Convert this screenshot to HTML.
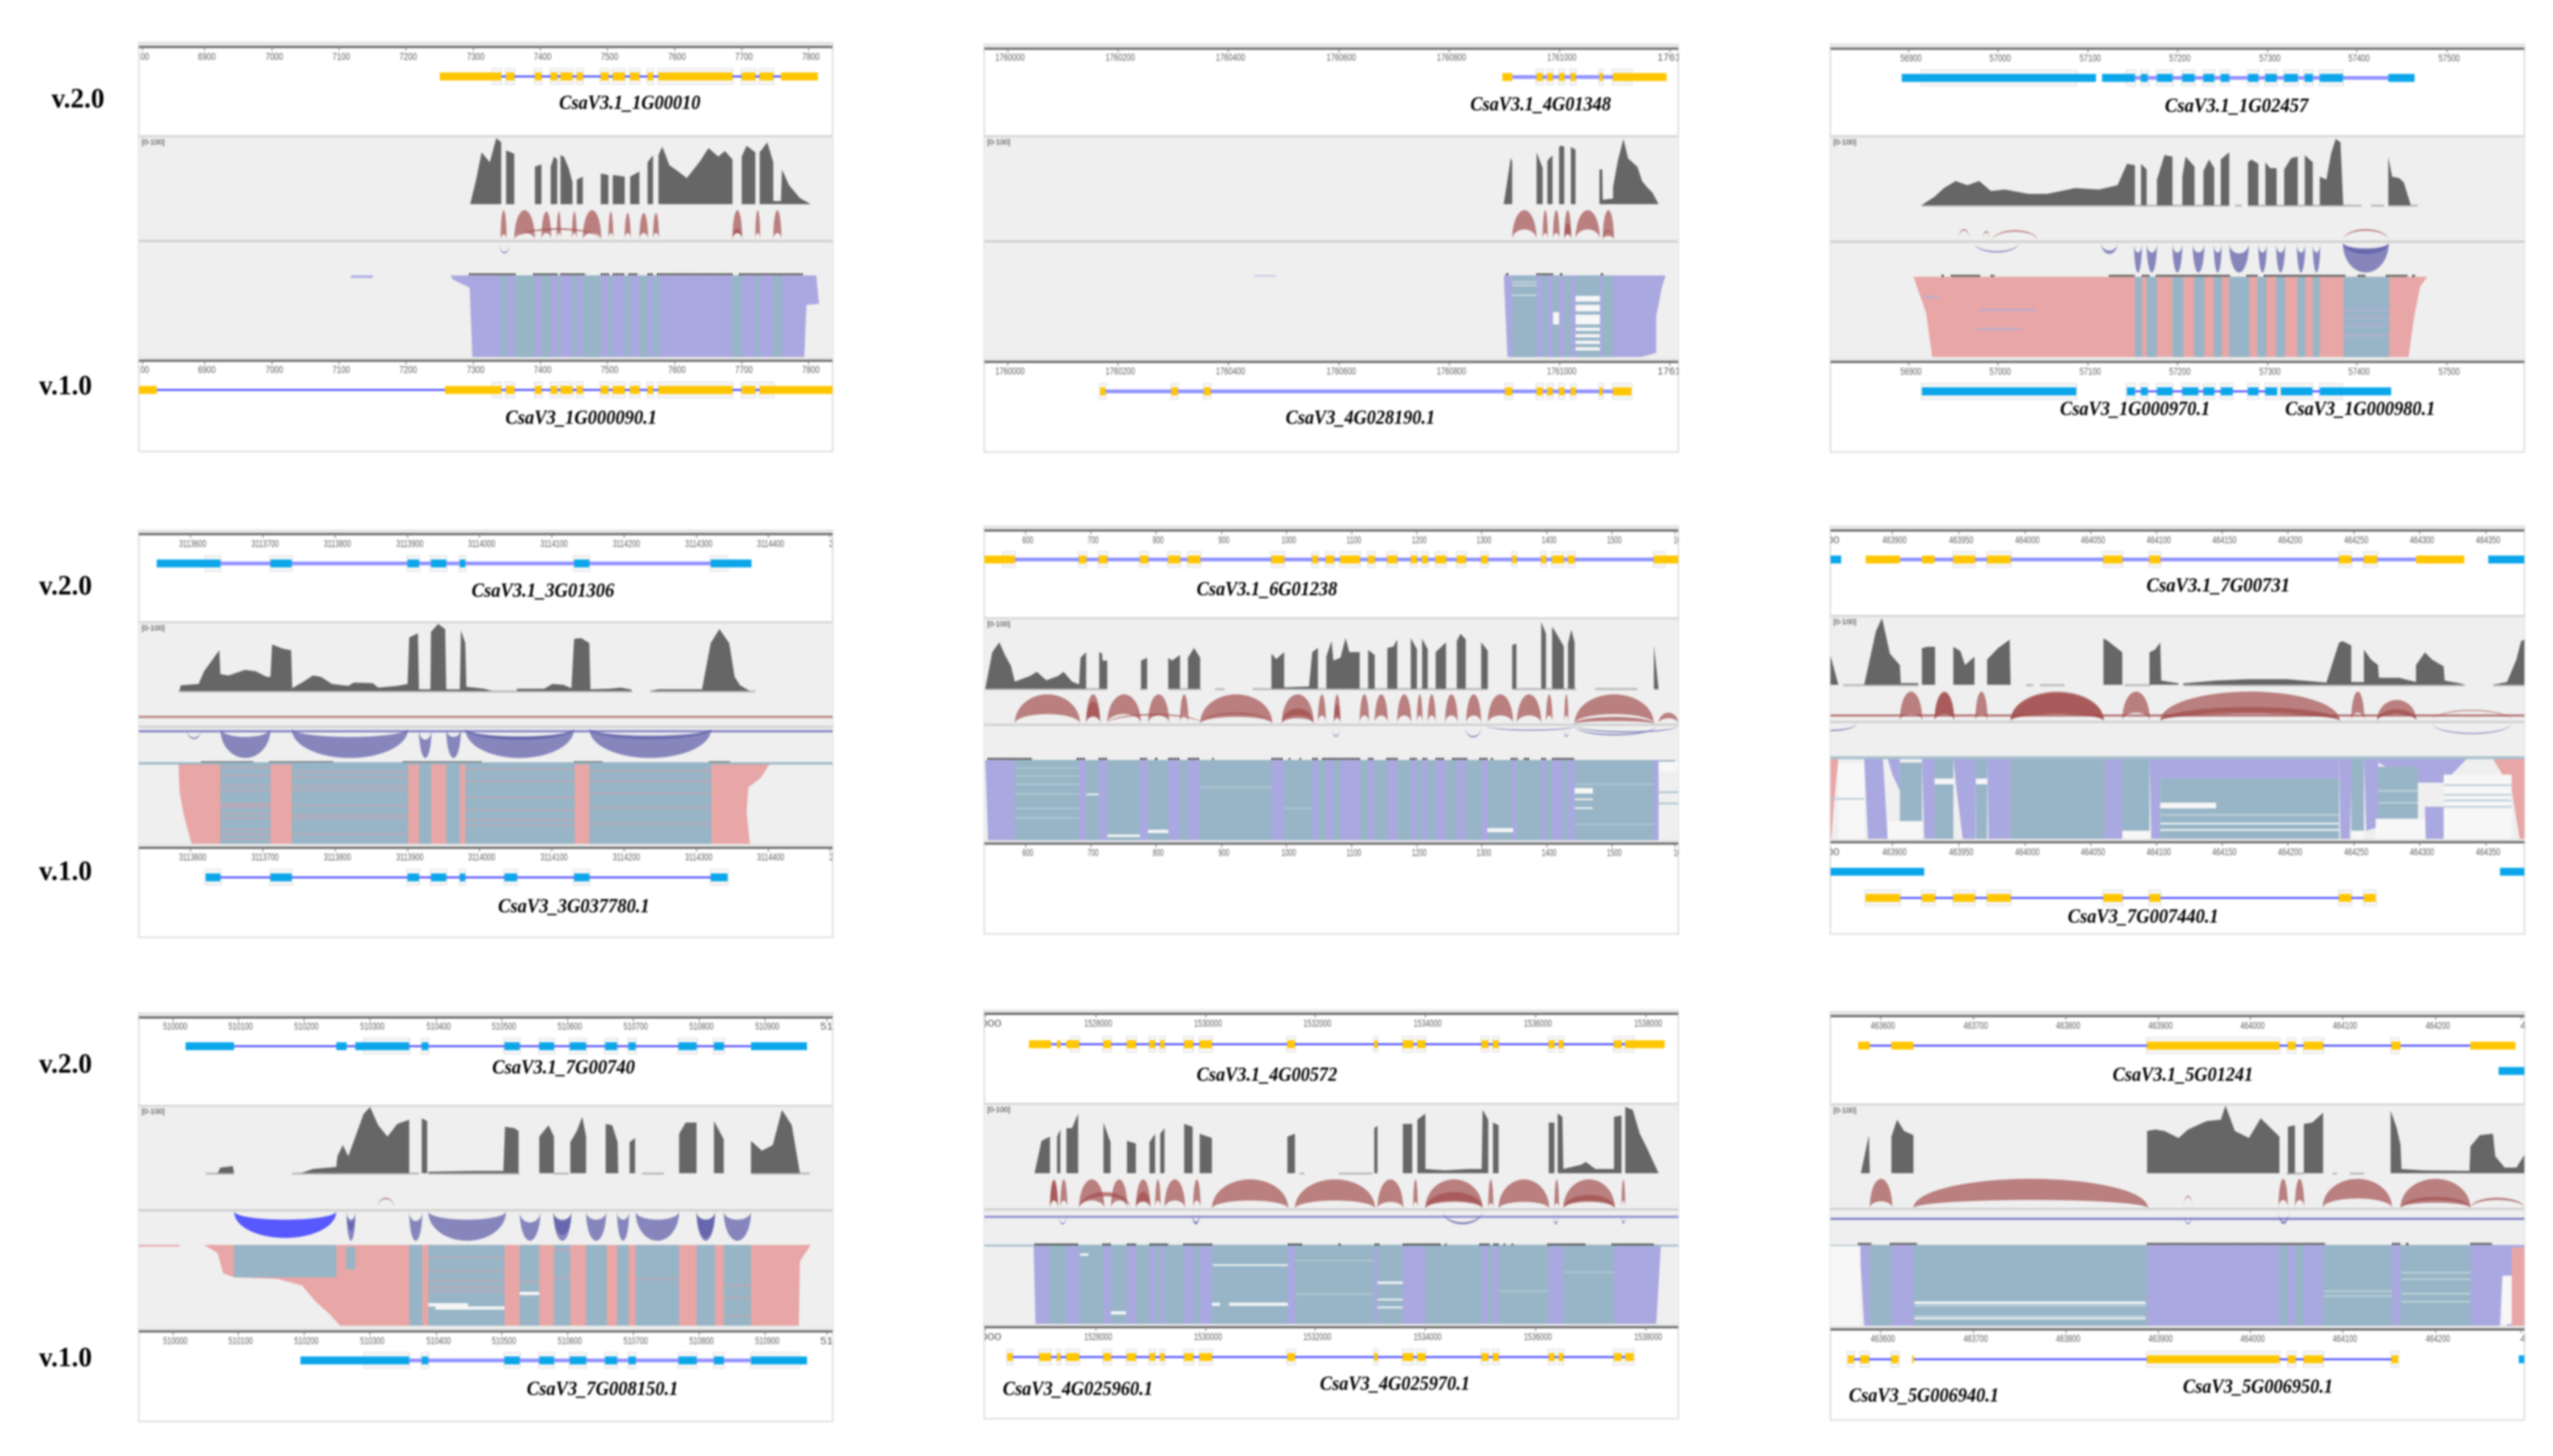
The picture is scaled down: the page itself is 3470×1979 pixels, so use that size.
<!DOCTYPE html>
<html lang="en">
<head>
<meta charset="utf-8">
<title>Gene model comparison v.2.0 and v.1.0</title>
<style>
html,body{margin:0;padding:0;background:#fff;}
#figure{display:block;width:3470px;height:1979px;filter:blur(1.4px);}
.ver{font-family:"Liberation Serif",serif;font-weight:bold;font-size:38px;fill:#000;}
.gn{font-family:"Liberation Serif",serif;font-weight:bold;font-style:italic;font-size:27px;fill:#000;text-anchor:middle;}
.tick{font-family:"Liberation Sans",sans-serif;font-size:14px;fill:#5c5c5c;text-anchor:middle;}
.rng{font-family:"Liberation Sans",sans-serif;font-size:10px;fill:#333;}
</style>
</head>
<body>
<svg id="figure" width="3470" height="1979" viewBox="0 0 3470 1979">
<rect x="0" y="0" width="3470" height="1979" fill="#fff"/>
<g id="panels"></g>
<g>
<text class="ver" x="70" y="146" textLength="72" lengthAdjust="spacingAndGlyphs">v.2.0</text>
<text class="ver" x="53" y="536" textLength="72" lengthAdjust="spacingAndGlyphs">v.1.0</text>
<text class="ver" x="53" y="808" textLength="72" lengthAdjust="spacingAndGlyphs">v.2.0</text>
<text class="ver" x="53" y="1196" textLength="72" lengthAdjust="spacingAndGlyphs">v.1.0</text>
<text class="ver" x="53" y="1458" textLength="72" lengthAdjust="spacingAndGlyphs">v.2.0</text>
<text class="ver" x="53" y="1857" textLength="72" lengthAdjust="spacingAndGlyphs">v.1.0</text>
</g>
<g>
<text class="gn" x="856" y="148" textLength="192" lengthAdjust="spacingAndGlyphs">CsaV3.1_1G00010</text>
<text class="gn" x="790" y="576" textLength="206" lengthAdjust="spacingAndGlyphs">CsaV3_1G000090.1</text>
<text class="gn" x="2094" y="150" textLength="191" lengthAdjust="spacingAndGlyphs">CsaV3.1_4G01348</text>
<text class="gn" x="1849" y="576" textLength="203" lengthAdjust="spacingAndGlyphs">CsaV3_4G028190.1</text>
<text class="gn" x="3040" y="152" textLength="195" lengthAdjust="spacingAndGlyphs">CsaV3.1_1G02457</text>
<text class="gn" x="2902" y="564" textLength="204" lengthAdjust="spacingAndGlyphs">CsaV3_1G000970.1</text>
<text class="gn" x="3208" y="564" textLength="204" lengthAdjust="spacingAndGlyphs">CsaV3_1G000980.1</text>
<text class="gn" x="738" y="811" textLength="194" lengthAdjust="spacingAndGlyphs">CsaV3.1_3G01306</text>
<text class="gn" x="780" y="1240" textLength="206" lengthAdjust="spacingAndGlyphs">CsaV3_3G037780.1</text>
<text class="gn" x="1722" y="809" textLength="191" lengthAdjust="spacingAndGlyphs">CsaV3.1_6G01238</text>
<text class="gn" x="3015" y="804" textLength="195" lengthAdjust="spacingAndGlyphs">CsaV3.1_7G00731</text>
<text class="gn" x="2913" y="1254" textLength="205" lengthAdjust="spacingAndGlyphs">CsaV3_7G007440.1</text>
<text class="gn" x="766" y="1459" textLength="194" lengthAdjust="spacingAndGlyphs">CsaV3.1_7G00740</text>
<text class="gn" x="819" y="1896" textLength="206" lengthAdjust="spacingAndGlyphs">CsaV3_7G008150.1</text>
<text class="gn" x="1722" y="1469" textLength="191" lengthAdjust="spacingAndGlyphs">CsaV3.1_4G00572</text>
<text class="gn" x="1465" y="1896" textLength="204" lengthAdjust="spacingAndGlyphs">CsaV3_4G025960.1</text>
<text class="gn" x="1896" y="1889" textLength="204" lengthAdjust="spacingAndGlyphs">CsaV3_4G025970.1</text>
<text class="gn" x="2967" y="1469" textLength="191" lengthAdjust="spacingAndGlyphs">CsaV3.1_5G01241</text>
<text class="gn" x="2615" y="1905" textLength="204" lengthAdjust="spacingAndGlyphs">CsaV3_5G006940.1</text>
<text class="gn" x="3069" y="1893" textLength="204" lengthAdjust="spacingAndGlyphs">CsaV3_5G006950.1</text>
</g>
</svg>
<script>
/* ---------- Panel A: CsaV3.1_1G00010 ---------- */
const aTicks=[262,376,500,623,746,870,993,1116,1240,1363,1486];
const aTickLabels=['00','6900','7000','7100','7200','7300','7400','7500','7600','7700','7800'];
const aExonsTop=[[808,921],[930,945],[983,995],[1012,1024],[1030,1052],[1060,1071],[1104,1118],[1126,1148],[1158,1175],[1190,1200],[1210,1346],[1363,1388],[1396,1421],[1435,1503]];
const aCdsTop=[[906,921],[930,945],[983,995],[1012,1024],[1030,1052],[1060,1071],[1104,1118],[1126,1148],[1158,1175],[1190,1200],[1210,1346],[1363,1388],[1396,1421]];
const aIntronTop=[[921,1435]];
const aExonsBot=[[255,288],[818,921],[930,945],[983,995],[1012,1024],[1030,1052],[1060,1071],[1104,1118],[1126,1148],[1158,1175],[1190,1200],[1210,1346],[1363,1388],[1396,1530]];
const aCdsBot=[[906,921],[930,945],[983,995],[1012,1024],[1030,1052],[1060,1071],[1104,1118],[1126,1148],[1158,1175],[1190,1200],[1210,1346],[1363,1388],[1396,1421]];
const aIntronBot=[[288,818],[921,1396]];
const aCoverage=[[864,0,875,86,885,181,900,146,912,231,921,216],[930,188,945,176],[983,131,995,139],[1012,130,1018,166,1024,156],[1030,171,1036,166,1045,126,1052,76],[1060,86,1071,96],[1104,106,1108,106,1118,101],[1126,101,1130,101,1148,96],[1158,96,1175,114],[1190,146,1200,171],[1210,171,1217,201,1230,136,1245,116,1262,91,1285,146,1302,196,1320,166,1332,186,1346,156],[1363,166,1372,204,1388,181],[1396,181,1410,216,1421,146,1421,11,1435,11,1437,121,1450,66,1470,21,1490,0]];
const aArcsUp=[[920,931,105,20],[945,983,105,25],[995,1013,100,25],[1023,1031,100,25],[1051,1060,100,25],[1071,1105,105,25],[1118,1127,100,25],[1148,1159,95,25],[1175,1191,95,25],[1200,1211,95,25],[1346,1364,105,25],[1388,1397,105,25],[1421,1436,105,25],[945,1105,42,36],[1346,1364,40,25]];
const aArcsDown=[[917,937,40,35]];
const aDashes=[[862,948],[980,1025],[1030,1075],[1104,1120],[1126,1148],[1155,1172],[1190,1200],[1207,1346],[1358,1475]];
const aLavender=[[828,0,1500,0,1505,35,1482,36,1478,100,868,100,863,15,832,5],[645,0,685,0,685,3,645,3]];
const aTeal=[[921,932],[945,983],[995,1012],[1024,1030],[1052,1060],[1071,1104],[1118,1126],[1148,1158],[1175,1190],[1200,1210],[1346,1363],[1388,1396],[1421,1436]];

/* ---------- Panel B: CsaV3.1_4G01348 ---------- */
const bTicks=[78,313,548,784,1019,1254,1489];
const bTickLabels=['1760000','1760200','1760400','1760600','1760800','1761000','17612'];
const bExonsTop=[[1132,1153],[1205,1218],[1228,1239],[1253,1264],[1278,1288],[1339,1346],[1368,1482]];
const bCdsTop=[[1205,1218],[1228,1239],[1253,1264],[1278,1288],[1339,1346],[1368,1407]];
const bIntronTop=[[1153,1368]];
const bExonsBot=[[275,286],[427,440],[496,510],[1138,1153],[1205,1218],[1228,1239],[1253,1264],[1278,1288],[1339,1346],[1368,1407]];
const bCdsBot=[[275,286],[427,440],[496,510],[1138,1153],[1205,1218],[1228,1239],[1253,1264],[1278,1288],[1339,1346],[1368,1407]];
const bIntronBot=[[286,1368]];
const bCoverage=[[1135,0,1150,161,1153,150],[1205,181,1218,126],[1228,150,1232,160,1239,170],[1253,200,1258,205,1264,200],[1278,200,1288,190],[1339,120,1345,122,1346,15,1368,20,1368,60,1378,150,1390,228,1400,160,1410,145,1420,130,1430,80,1440,60,1452,40,1465,0]];
const bArcsUp=[[1153,1205,105,38],[1218,1229,105,25],[1240,1254,105,25],[1264,1279,105,25],[1264,1279,60,20],[1288,1340,105,38],[1346,1370,105,30],[1346,1370,35,15]];
const bDashes=[[1140,1145],[1205,1240],[1255,1260],[1342,1347]];
const bLavender=[[1135,0,1480,0,1472,15,1460,50,1460,95,1428,100,1143,100],[603,0,650,0,650,1,603,1]];
const bTeal=[[1153,1205],[1218,1228],[1239,1253],[1264,1278],[1288,1339],[1346,1368]];
const bGaps=[[1288,1340,25,32],[1288,1340,36,44],[1288,1340,48,60],[1288,1340,64,68],[1288,1340,72,76],[1288,1340,80,84],[1288,1340,88,92],[1240,1253,45,60]];
const bStreaks=[[1153,1205,8],[1153,1205,12],[1153,1205,24]];

/* ---------- Panel C: CsaV3.1_1G02457 ---------- */
const cTicks=[195,385,577,768,960,1150,1342];
const cTickLabels=['56900','57000','57100','57200','57300','57400','57500'];
const cExonsTop=[[180,594],[607,677],[690,704],[724,757],[778,804],[823,846],[860,878],[918,940],[955,979],[995,1024],[1039,1056],[1071,1120],[1217,1273]];
const cCdsTop=[[223,552],[660,677],[690,706],[724,757],[778,804],[823,846],[860,878],[918,940],[955,979],[995,1024],[1039,1056],[1071,1120]];
const cIntronTop=[[677,1217]];
const cExonsBot=[[223,552],[660,677],[690,704],[724,757],[778,812],[823,846],[860,885],[918,940],[955,980],[988,1055],[1071,1223]];
const cCdsBot=[[223,552],[660,677],[690,704],[724,757],[778,812],[823,846],[860,885],[918,940],[955,980],[988,1055],[1071,1117]];
const cIntronBot=[[677,955],[1055,1071]];
const cCoverage=[[222,0,250,30,270,60,295,85,320,70,345,85,370,50,400,55,450,40,490,40,550,60,600,55,640,70,660,145,677,140],[690,145,702,125],[724,90,740,175,757,170],[778,100,785,170,804,135],[823,120,835,160,846,130],[860,160,878,185],[918,150,925,160,940,145],[955,150,965,130,979,130],[995,125,1010,165,1024,170],[1039,175,1056,150],[1071,100,1085,90,1095,180,1105,232,1115,220,1121,0],[1217,170,1225,100,1240,95,1250,80,1265,0]];
const cExtent=[[222,878],[890,905],[918,1160],[1180,1208],[1217,1280]];
const cArcsUp=[[300,325,42,37],[352,368,35,30],[373,470,38,33],[1120,1218,42,36]];
const cArcsDown=[[335,430,35,30],[605,640,40,28],[675,692,105,35],[702,724,105,35],[757,778,105,35],[800,825,105,35],[845,862,105,35],[878,920,105,38],[940,958,105,35],[978,997,105,35],[1022,1040,105,35],[1056,1072,105,35],[1120,1218,105,25],[1120,1218,40,20]];
const cDashes=[[265,270],[285,348],[370,378],[622,676],[692,708],[722,880],[915,938],[952,1125],[1152,1168],[1212,1258],[1268,1275]];
const cPink=[[205,0,1300,0,1285,12,1272,50,1260,100,245,100,232,45]];
const cTeal=[[677,692],[702,724],[757,780],[803,825],[845,862],[878,921],[938,957],[978,997],[1023,1040],[1056,1071],[1122,1219]];
const cStreaks=[[1122,1219,41],[1122,1219,50],[1122,1219,60],[1122,1219,73],[340,435,65],[345,465,41],[225,260,25]];

/* ---------- Panel D: CsaV3.1_3G01306 ---------- */
const dTicks=[350,483,616,749,881,1014,1147,1280,1412,1525];
const dTickLabels=['3113600','3113700','3113800','3113900','3114000','3114100','3114200','3114300','3114400','3'];
const dExonsTop=[[288,405],[497,536],[749,770],[792,820],[845,855],[1055,1083],[1306,1381]];
const dCdsTop=[[378,405],[497,536],[749,770],[792,820],[845,855],[1055,1083],[1306,1336]];
const dIntronTop=[[405,1306]];
const dExonsBot=[[378,405],[497,536],[749,770],[792,820],[845,855],[927,950],[1055,1083],[1306,1337]];
const dCdsBot=[[378,405],[497,536],[749,770],[792,820],[845,855],[927,950],[1055,1083],[1306,1337]];
const dIntronBot=[[405,1306]];
const dCoverage=[[330,0,332,20,365,25,375,70,390,110,403,145,405,60,420,55,450,75,470,70,490,50,497,50,500,165,520,150,535,145,537,10,555,30,575,55,590,50,610,25,640,18,650,30,685,28,695,12,730,18,749,25,752,190,768,205,770,6,791,6,792,210,805,238,818,220,820,6,845,6,847,215,855,170,857,15,890,8,905,0],[950,8,1000,8,1015,25,1035,22,1050,10,1055,185,1068,188,1083,170,1085,6,1120,8,1140,12,1160,5],[1195,0,1210,6,1290,6,1306,170,1322,220,1340,170,1350,50,1360,20,1378,0]];
const dExtent=[[328,1162],[1195,1388]];
const dArcsDown=[[405,497,105,30],[536,750,105,30],[770,793,105,40],[820,847,105,30],[855,1055,105,30],[855,1055,40,28],[1083,1307,105,30],[1083,1307,38,25],[343,370,38,32]];
const dDashes=[[370,465],[495,612],[740,885],[1055,1107],[1303,1342]];
const dPink=[[328,0,1415,0,1398,18,1375,30,1372,60,1378,100,352,100,338,65,330,35]];
const dTeal=[[405,497],[536,750],[770,792],[820,845],[855,1056],[1083,1307]];
const dStreaks=[[405,497,5],[405,497,15],[405,497,28],[405,497,34],[405,497,50],[405,497,52],[405,497,54],[405,497,62],[405,497,68],[405,497,82],[405,497,88],[405,497,94],[536,750,10],[536,750,17],[536,750,28],[536,750,33],[536,750,52],[536,750,64],[536,750,68],[536,750,88],[855,1056,7],[855,1056,22],[855,1056,42],[855,1056,58],[855,1056,70],[855,1056,77],[1083,1307,9],[1083,1307,22],[1083,1307,37],[1083,1307,55],[1083,1307,75]];

/* ---------- Panel E: CsaV3.1_6G01238 ---------- */
const eTicks=[116,255,394,534,672,811,950,1088,1227,1366,1500];
const eTickLabels=['600','700','800','900','1000','1100','1200','1300','1400','1500','16'];
const eExonsTop=[[28,93],[230,245],[272,290],[360,377],[420,445],[462,488],[640,667],[727,739],[756,773],[787,828],[846,860],[887,908],[937,950],[961,973],[990,1012],[1035,1054],[1087,1101],[1153,1162],[1215,1225],[1238,1263],[1272,1286],[1455,1507]];
const eCdsTop=[[68,93],[230,245],[272,290],[360,377],[420,445],[462,488],[640,667],[727,739],[756,773],[787,828],[846,860],[887,908],[937,950],[961,973],[990,1012],[1035,1054],[1087,1101],[1153,1162],[1215,1225],[1238,1263],[1272,1286],[1455,1477]];
const eIntronTop=[[93,1455]];
const eCoverage=[[30,0,45,130,60,165,72,120,85,80,93,25,125,45,140,60,160,30,185,45,197,60,215,25,230,15,233,110,245,130],[273,130,279,125,280,100,290,100],[362,100,375,110],[420,110,428,100,445,120],[462,110,475,145,488,110],[640,125,650,105,667,130],[667,5,720,8,727,130,739,145],[757,115,768,170,772,100,787,110,798,180,806,130,828,130],[846,138,860,120],[887,145,900,150,908,175],[937,180,950,140],[961,178,973,140],[990,130,1012,165],[1035,170,1043,195,1054,175],[1087,165,1101,135],[1153,155,1162,160],[1215,237,1225,195],[1238,220,1246,200,1263,150],[1272,160,1279,210,1286,165],[1455,155,1465,0]];
const eExtent=[[30,290],[360,375],[420,490],[520,540],[600,1101],[1153,1290],[1330,1420],[1455,1465]];
const eArcsUp=[[93,232,105,35],[245,275,105,30],[245,275,80,25],[290,362,105,35],[377,422,105,30],[445,463,105,30],[488,642,105,35],[488,642,40,25],[662,730,105,30],[662,730,55,20],[739,756,105,30],[773,787,105,30],[773,787,70,20],[828,848,105,30],[860,888,105,30],[908,938,105,30],[950,962,105,30],[973,990,105,30],[1010,1037,105,30],[1055,1087,105,30],[1101,1155,105,30],[1163,1215,105,30],[1225,1239,105,30],[1264,1273,105,30],[1286,1455,105,35],[1286,1455,25,10],[1465,1507,40,20],[290,490,36,30]];
const eArcsDown=[[769,786,40,35],[1052,1088,42,37],[1262,1275,40,35],[1097,1290,18,14],[1285,1460,35,30],[1290,1507,25,20]];
const eDashes=[[35,130],[225,243],[272,290],[360,375],[392,398],[420,445],[462,487],[514,517],[640,665],[677,680],[700,703],[727,740],[748,830],[846,858],[885,910],[935,950],[962,972],[990,1008],[1025,1058],[1083,1100],[1108,1112],[1150,1165],[1178,1190],[1215,1225],[1238,1285]];
const eLavender=[[30,0,1465,0,1465,100,36,100]];
const eTeal=[[93,230],[245,272],[290,360],[377,420],[445,462],[488,640],[667,727],[739,756],[773,787],[828,846],[860,887],[908,937],[950,961],[973,990],[1012,1035],[1054,1087],[1101,1153],[1162,1215],[1225,1238],[1263,1272],[1286,1455],[1465,1500,0,2]];
const eGaps=[[290,360,93,96],[377,420,87,91],[1100,1155,85,90],[1465,1507,3,15],[1286,1325,35,42],[1286,1325,48,50],[1286,1325,59,61],[245,272,42,44]];
const eStreaks=[[93,230,10],[93,230,20],[93,230,30],[93,230,42],[93,230,60],[93,230,72],[488,640,34],[667,727,60],[1286,1455,30],[1286,1455,80],[1465,1507,40],[1465,1507,54]];

/* ---------- Panel F: CsaV3.1_7G00731 ---------- */
const fTicks=[23,160,302,443,583,723,863,1003,1144,1284,1425];
const fTickLabels=['500','463900','463950','464000','464050','464100','464150','464200','464250','464300','464350'];
const fExonsTop=[[103,176],[223,250],[290,336],[362,412],[610,650],[708,731],[1112,1138],[1165,1193],[1276,1379]];
const fCdsTop=[[290,336],[362,412],[610,650],[708,731],[1112,1138],[1165,1193]];
const fIntronTop=[[176,1276]];
const fExonsBot=[[103,176],[223,251],[290,336],[362,412],[610,650],[708,731],[1112,1138],[1165,1190]];
const fCdsBot=[[103,176],[223,251],[290,336],[362,412],[610,650],[708,731],[1112,1138],[1165,1190]];
const fIntronBot=[[176,1165]];
const fBlueTop=[[28,51],[1430,1507]];
const fBlueBot=[[28,228],[1455,1507]];
const fCoverage=[[28,105,45,0],[100,0,125,190,138,237,155,110,176,70,178,6,215,6],[223,130,235,135,251,135],[290,135,305,120,315,70,335,100],[362,90,385,130,410,160,412,0],[610,165,620,155,650,115],[708,115,720,125,731,150,733,15,770,5],[780,5,850,15,920,20,1000,20,1085,8,1112,150,1120,155,1138,140,1138,10,1165,10,1165,125,1180,90,1195,70,1197,25,1240,25,1276,10,1276,70,1295,115,1310,90,1335,65,1337,15,1370,5,1380,0],[1440,0,1470,10,1490,90,1500,155,1507,160]];
const fExtent=[[55,215],[445,460],[475,527],[655,710],[780,1380],[1440,1507]];
const fArcsUp=[[176,224,105,25],[250,292,105,25],[250,292,100,25],[337,363,105,25],[412,611,105,25],[412,611,100,25],[650,709,105,30],[731,1114,105,30],[731,1114,50,25],[1138,1166,105,30],[1193,1277,75,25],[1193,1277,42,25],[1310,1480,40,36]];
const fArcsDown=[[1310,1480,40,36],[-30,85,30,25]];
const fLavender=[[100,0,140,0,150,100,108,100],[150,0,176,0,176,40,160,20],[223,0,250,0,250,100,228,100],[290,0,338,0,337,100,310,100,295,30],[362,0,412,0,412,100,365,100],[612,0,650,0,650,100,612,100],[708,0,731,0,731,100,712,100],[1112,0,1140,0,1135,100,1115,100],[1165,0,1195,0,1197,85,1170,90],[1195,0,1385,0,1335,30,1280,30,1195,5],[1295,60,1337,60,1337,100,1297,100],[731,0,1112,0,1112,25,731,25],[850,55,1100,55,1100,68,880,68]];
const fPink=[[1440,0,1507,0,1507,100,1497,100,1480,40],[28,0,45,0,40,30,35,60,30,100,28,100]];
const fTeal=[[176,223,5,78],[250,290,0,100],[338,362,0,100],[412,612,0,100],[650,708,0,90],[731,1112,25,100],[1138,1165,0,90],[1195,1280,10,75]];
const fGaps=[[45,100,5,100],[150,223,78,100],[250,290,25,32],[338,362,25,32],[1335,1480,20,100],[650,708,90,100],[1140,1165,90,100],[731,850,55,62],[731,1112,80,82],[731,1112,88,90],[1190,1295,75,100]];
const fStreaks=[[1335,1480,33],[1335,1480,45],[1335,1480,52],[1335,1480,60],[1195,1280,40],[1195,1280,55],[731,1112,70],[30,100,50]];

/* ---------- Panel G: CsaV3.1_7G00740 ---------- */
const gTicks=[318,438,559,680,802,922,1043,1164,1285,1406,1520];
const gTickLabels=['510000','510100','510200','510300','510400','510500','510600','510700','510800','510900','511'];
const gExonsTop=[[341,430],[618,637],[653,752],[775,787],[927,955],[991,1018],[1047,1077],[1112,1134],[1155,1168],[1247,1280],[1312,1330],[1380,1483]];
const gCdsTop=[[670,752],[775,787],[927,955],[991,1018],[1047,1077],[1112,1134],[1155,1168],[1247,1280],[1312,1330]];
const gIntronTop=[[430,1380]];
const gExonsBot=[[552,752],[775,787],[927,955],[991,1018],[1047,1077],[1112,1134],[1155,1168],[1247,1280],[1312,1330],[1380,1483]];
const gCdsBot=[[670,752],[775,787],[927,955],[991,1018],[1047,1077],[1112,1134],[1155,1168],[1247,1280],[1312,1330],[1380,1468]];
const gIntronBot=[[752,1380]];
const gCoverage=[[400,0,405,20,428,25,430,0],[553,0,575,15,618,22,620,60,630,100,640,60,655,140,668,210,680,235,695,170,712,130,730,175,752,190],[775,195,785,185],[787,5,875,8,925,8,928,165,945,160,953,150],[991,130,1008,170,1018,130],[1048,110,1060,150,1070,200,1077,130],[1113,175,1125,170,1135,110,1136,5],[1157,110,1167,125],[1248,140,1260,180,1280,180],[1312,185,1330,120],[1380,115,1400,80,1420,100,1437,225,1455,170,1470,0]];
const gExtent=[[378,430],[537,770],[787,955],[1018,1045],[1180,1220],[1380,1488]];
const gArcsUp=[[693,725,42,37]];
const gArcsStrong=[[430,618,95,30]];
const gArcsDown=[[637,653,105,40],[637,653,70,30],[752,776,105,35],[787,930,105,30],[955,993,105,40],[1017,1050,105,35],[1017,1050,85,30],[1077,1114,105,30],[1134,1156,105,30],[1168,1248,105,30],[1280,1314,105,30],[1280,1314,95,30],[1330,1380,105,30]];
const gPink=[[255,0,330,0,330,2,255,2],[375,0,1490,0,1470,20,1468,100,625,100,605,85,580,70,555,50,510,42,430,40,410,35,400,10]];
const gTeal=[[430,618,0,40],[636,653,2,30],[752,776],[787,927],[955,991],[1018,1048],[1077,1115],[1134,1155],[1168,1248],[1280,1314],[1330,1380]];
const gGaps=[[787,860,72,76],[800,927,76,80],[955,991,58,62]];
const gStreaks=[[787,927,15],[787,927,32],[787,927,44],[787,927,52],[787,927,57],[955,991,45],[1018,1048,6],[1018,1048,40],[1168,1248,42],[1330,1380,50],[1330,1380,65],[1330,1380,88]];

/* ---------- Panel H: CsaV3.1_4G00572 ---------- */
const hTicks=[30,266,500,733,968,1203,1438];
const hTickLabels=['4000','1528000','1530000','1532000','1534000','1536000','1538000'];
const hExonsTop=[[123,170],[183,190],[203,230],[282,298],[332,351],[380,392],[403,412],[454,473],[487,513],[674,690],[859,866],[920,942],[951,968],[1088,1102],[1112,1124],[1231,1243],[1252,1262],[1370,1386],[1394,1478]];
const hCdsTop=[[213,230],[282,298],[332,351],[380,392],[403,412],[454,473],[487,513],[674,690],[859,866],[920,942],[951,968],[1088,1102],[1112,1124],[1231,1243],[1252,1262],[1370,1386],[1394,1412]];
const hIntronTop=[[170,1394]];
const hExonsBot=[[77,88],[145,170],[183,190],[203,230],[282,298],[332,351],[380,392],[403,412],[454,473],[487,513],[674,690],[859,866],[920,942],[951,968],[1088,1102],[1112,1124],[1231,1243],[1252,1262],[1370,1386],[1394,1412]];
const hCdsBot=[[77,88],[145,170],[183,190],[203,230],[282,298],[332,351],[380,392],[403,412],[454,473],[487,513],[674,690],[859,866],[920,942],[951,968],[1088,1102],[1112,1124],[1231,1243],[1252,1262],[1370,1386],[1394,1412]];
const hIntronBot=[[88,1394]];
const hCoverage=[[135,0,150,115,168,130],[183,130,190,155],[203,160,215,160,228,212],[282,180,297,110],[332,115,351,105],[380,110,392,140],[403,140,412,160],[454,175,472,165],[487,140,513,125],[674,130,690,140],[859,160,866,168],[920,175,940,175],[951,190,968,212,968,15,1010,10,1060,15,1088,15,1090,225,1102,190],[1112,180,1124,170],[1231,180,1243,180],[1250,212,1260,200,1262,15,1300,30,1310,40,1330,15,1370,15,1370,200,1386,205],[1394,235,1410,225,1425,140,1440,90,1465,0]];
const hExtent=[[700,710],[783,855]];
const hArcsUp=[[168,185,105,30],[168,185,100,30],[190,205,105,30],[230,284,105,30],[230,340,60,45],[298,333,105,30],[351,382,105,30],[351,382,60,25],[392,404,105,30],[412,456,105,30],[473,489,105,30],[513,676,105,30],[690,861,105,30],[866,921,105,25],[942,952,105,25],[968,1090,105,25],[968,1090,60,30],[1102,1113,105,20],[1124,1232,105,25],[1243,1253,105,20],[1262,1372,105,25],[1262,1372,50,30],[1386,1394,105,30]];
const hArcsDown=[[185,205,50,45],[470,488,50,40],[1005,1090,50,42],[1240,1252,50,42],[1385,1395,48,40]];
const hDashes=[[135,228],[280,298],[332,352],[380,420],[452,515],[675,705],[783,787],[860,870],[920,1000],[1010,1013],[1083,1105],[1113,1125],[1135,1138],[1152,1155],[1228,1310],[1365,1455]];
const hLavender=[[133,0,1470,0,1460,100,137,100]];
const hTeal=[[28,1507,-1,1],[168,203],[230,282],[298,332],[351,380],[392,403],[412,454],[473,487],[513,674],[690,859],[866,920],[968,1088],[1102,1112],[1124,1231],[1262,1370]];
const hGaps=[[513,530,73,77],[550,675,73,77],[866,920,46,49],[866,920,68,70],[866,920,78,80],[515,675,24,26],[232,250,10,13],[298,330,84,88]];
const hStreaks=[[690,859,19],[690,859,62],[1124,1231,58],[1262,1370,34]];

/* ---------- Panel I: CsaV3.1_5G01241 ---------- */
const iTicks=[135,333,530,727,923,1120,1318,1500];
const iTickLabels=['463600','463700','463800','463900','464000','464100','464200','4'];
const iExonsTop=[[87,112],[158,205],[703,985],[1003,1019],[1037,1078],[1224,1243],[1392,1488]];
const iCdsTop=[[703,985],[1003,1019],[1037,1078],[1224,1238]];
const iIntronTop=[[112,1392]];
const iBlueTop=[[1452,1507]];
const iExonsBot=[[65,78],[92,110],[158,173],[202,206],[703,985],[1003,1019],[1037,1078],[1224,1238]];
const iCdsBot=[[65,78],[92,110],[158,173],[703,985],[1003,1019],[1037,1078],[1224,1238]];
const iIntronBot=[[78,173],[205,1224]];
const iBlueBot=[[1495,1507]];
const iCoverage=[[93,0,110,135,112,0],[158,130,170,190,185,150,205,135],[703,150,720,155,740,150,770,125,790,155,830,185,860,190,870,240,890,150,920,125,945,195,985,130],[1003,165,1018,170],[1037,175,1055,180,1078,215],[1222,222,1235,160,1243,100,1245,15,1290,10,1390,8,1392,95,1412,135,1440,140,1445,60,1465,20,1490,20,1507,65]];
const iExtent=[[1000,1037],[1098,1108],[1135,1165]];
const iArcsUp=[[112,160,105,25],[205,705,105,30],[780,800,45,40],[983,1003,105,30],[1018,1038,105,30],[1077,1225,105,35],[1243,1392,105,30],[1243,1392,40,20],[1392,1507,38,30]];
const iArcsDown=[[780,800,50,45],[983,1005,50,40]];
const iDashes=[[87,115],[155,213],[703,1082],[1225,1242],[1255,1260],[1392,1438]];
const iLavender=[[90,0,1507,0,1507,100,1470,100,1460,40,1455,100,100,100]];
const iPink=[[1480,3,1507,3,1507,100,1480,100]];
const iTeal=[[112,158],[205,703],[985,1003],[1019,1037],[1078,1225],[1243,1392],[28,95,0,1]];
const iGaps=[[28,92,2,100],[207,700,70,73],[207,700,90,92],[1460,1480,38,98]];
const iStreaks=[[207,700,75],[207,700,88],[1080,1225,57],[1080,1225,63],[1245,1392,34],[1245,1392,42],[1245,1392,60],[1245,1392,70]];

const YEL='#ffc600', BLU='#0ba6ea';
const COL1={x0:0,sx:1.352,left:255,right:1530}, COL2={x0:1320,sx:1.568,left:28,right:1507}, COL3={x0:2470,sx:1.568,left:28,right:1507};
const PANELS=[
 {c:COL1,y0:30,sy:2.57,top:72,bottom:1500,ruler:87,label:120,band:400,sep:765,rTop:885,rBot:1170,ruler2:1183,label2:1213,base:636,arcBase:762,downBase:768,tickW:24,ticks:aTicks,tickLabels:aTickLabels,cov:aCoverage,up:aArcsUp,down:aArcsDown,dashes:aDashes,lav:aLavender,teal:aTeal,streak:'#b4c8d6',
  genes:[{y:190,ex:aExonsTop,cds:aCdsTop,intr:aIntronTop,col:YEL,thick:0},{y:1285,ex:aExonsBot,cds:aCdsBot,intr:aIntronBot,col:YEL,thick:0}]},
 {c:COL2,y0:30,sy:2.57,top:78,bottom:1502,ruler:93,label:122,band:400,sep:766,rTop:885,rBot:1170,ruler2:1187,label2:1218,base:636,arcBase:762,downBase:768,tickW:40,ticks:bTicks,tickLabels:bTickLabels,cov:bCoverage,up:bArcsUp,dashes:bDashes,lav:bLavender,teal:bTeal,gaps:bGaps,streaks:bStreaks,streak:'#c4d4de',
  genes:[{y:192,ex:bExonsTop,cds:bCdsTop,intr:bIntronTop,col:YEL,thick:1},{y:1290,ex:bExonsBot,cds:bCdsBot,intr:bIntronBot,col:YEL,thick:1}]},
 {c:COL3,y0:30,sy:2.57,top:78,bottom:1502,ruler:93,label:125,band:400,sep:767,rTop:890,rBot:1170,ruler2:1187,label2:1220,base:640,arcBase:765,downBase:770,tickW:29,ticks:cTicks,tickLabels:cTickLabels,cov:cCoverage,extent:cExtent,up:cArcsUp,down:cArcsDown,dashes:cDashes,pink:cPink,teal:cTeal,streaks:cStreaks,streak:'#b3aed6',
  genes:[{y:195,ex:cExonsTop,cds:cCdsTop,intr:cIntronTop,col:BLU,thick:1},{y:1290,ex:cExonsBot,cds:cCdsBot,intr:cIntronBot,col:BLU,thick:0}]},
 {c:COL1,y0:700,sy:2.613,top:55,bottom:1500,ruler:68,label:100,band:382,sep:752,rTop:882,rBot:1168,ruler2:1182,label2:1214,base:625,arcBase:752,downBase:758,tickW:37,ticks:dTicks,tickLabels:dTickLabels,cov:dCoverage,extent:dExtent,down:dArcsDown,dashes:dDashes,pink:dPink,teal:dTeal,streaks:dStreaks,streak:'#b8aab8',
  lines:[[717,'#bd8585',3],[768,'#8282c4',3],[882,'#97b5c6',3]],
  genes:[{y:172,ex:dExonsTop,cds:dCdsTop,intr:dIntronTop,col:BLU,thick:1},{y:1287,ex:dExonsBot,cds:dCdsBot,intr:dIntronBot,col:BLU,thick:0}]},
 {c:COL2,y0:700,sy:2.613,top:40,bottom:1488,ruler:55,label:87,band:368,sep:745,rTop:870,rBot:1155,ruler2:1167,label2:1198,base:617,arcBase:742,downBase:748,tickW:20,ticks:eTicks,tickLabels:eTickLabels,cov:eCoverage,extent:eExtent,up:eArcsUp,down:eArcsDown,dashes:eDashes,lav:eLavender,teal:eTeal,gaps:eGaps,streaks:eStreaks,streak:'#aec4d2',
  genes:[{y:158,ex:eExonsTop,cds:eCdsTop,intr:eIntronTop,col:YEL,thick:1}]},
 {c:COL3,y0:700,sy:2.613,top:40,bottom:1488,ruler:55,label:87,band:360,sep:735,rTop:865,rBot:1150,ruler2:1162,label2:1195,base:603,arcBase:732,downBase:738,tickW:33,ticks:fTicks,tickLabels:fTickLabels,cov:fCoverage,extent:fExtent,up:fArcsUp,down:fArcsDown,lav:fLavender,pink:fPink,teal:fTeal,gaps:fGaps,streaks:fStreaks,streak:'#bccfda',
  lines:[[712,'#b57878',3],[862,'#a8c0ce',4]],
  genes:[{y:158,ex:fExonsTop,cds:fCdsTop,intr:fIntronTop,col:YEL,thick:1},{y:158,ex:fBlueTop,cds:[],intr:[],col:BLU,thick:0},{y:1267,ex:fBlueBot,cds:[],intr:[],col:BLU,thick:0},{y:1360,ex:fExonsBot,cds:fCdsBot,intr:fIntronBot,col:YEL,thick:0}]},
 {c:COL1,y0:1360,sy:2.613,top:45,bottom:1495,ruler:60,label:90,band:375,sep:745,rTop:868,rBot:1155,ruler2:1175,label2:1207,base:613,arcBase:742,downBase:748,tickW:33,ticks:gTicks,tickLabels:gTickLabels,cov:gCoverage,extent:gExtent,up:gArcsUp,strong:gArcsStrong,down:gArcsDown,pink:gPink,teal:gTeal,gaps:gGaps,streaks:gStreaks,streak:'#b8aab8',
  genes:[{y:162,ex:gExonsTop,cds:gCdsTop,intr:gIntronTop,col:BLU,thick:0},{y:1278,ex:gExonsBot,cds:gCdsBot,intr:gIntronBot,col:BLU,thick:1}]},
 {c:COL2,y0:1360,sy:2.613,top:35,bottom:1485,ruler:47,label:80,band:368,sep:742,rTop:870,rBot:1148,ruler2:1160,label2:1193,base:613,arcBase:740,downBase:745,tickW:38,ticks:hTicks,tickLabels:hTickLabels,cov:hCoverage,extent:hExtent,up:hArcsUp,down:hArcsDown,dashes:hDashes,lav:hLavender,teal:hTeal,gaps:hGaps,streaks:hStreaks,streak:'#aec4d2',
  lines:[[768,'#8f8fcf',3]],
  genes:[{y:155,ex:hExonsTop,cds:hCdsTop,intr:hIntronTop,col:YEL,thick:0},{y:1266,ex:hExonsBot,cds:hCdsBot,intr:hIntronBot,col:YEL,thick:0}]},
 {c:COL3,y0:1360,sy:2.613,top:40,bottom:1490,ruler:55,label:87,band:370,sep:740,rTop:868,rBot:1155,ruler2:1168,label2:1200,base:613,arcBase:738,downBase:744,tickW:33,ticks:iTicks,tickLabels:iTickLabels,cov:iCoverage,extent:iExtent,up:iArcsUp,down:iArcsDown,dashes:iDashes,lav:iLavender,pink:iPink,teal:iTeal,gaps:iGaps,streaks:iStreaks,streak:'#bccfda',
  lines:[[775,'#7f7fc8',3]],
  genes:[{y:160,ex:iExonsTop,cds:iCdsTop,intr:iIntronTop,col:YEL,thick:0},{y:250,ex:iBlueTop,cds:[],intr:[],col:BLU,thick:0},{y:1274,ex:iExonsBot,cds:iCdsBot,intr:iIntronBot,col:YEL,thick:0},{y:1274,ex:iBlueBot,cds:[],intr:[],col:BLU,thick:0}]}
];

const root=document.getElementById('figure');
const panelsG=document.getElementById('panels');
const NS=root.namespaceURI;
function make(tag,parent,attrs){
  const el=document.createElementNS(NS,tag);
  for(const k in attrs){el.setAttribute(k,attrs[k]);}
  parent.appendChild(el);
  return el;
}
/* half-ellipse dome with a hollow underside, built from two quarter curves */
function dome(a,b,yb,dy){
  const m=(a+b)/2,k=0.62,kx=(b-a)/2*0.5;
  const top=yb-dy;
  return 'M'+a+' '+yb+'C'+a+' '+(yb-k*dy)+' '+(m-kx)+' '+top+' '+m+' '+top+'C'+(m+kx)+' '+top+' '+b+' '+(yb-k*dy)+' '+b+' '+yb+'Z';
}
function arcPath(X,yb,s,e,h,inner,dir,Ypx){
  const a=X(s),b=X(e);
  return dome(a,b,yb,dir*Ypx(h))+dome(a,b,yb,dir*Ypx(inner));
}
function drawPanel(p,idx){
  const X=v=>p.c.x0+v/p.c.sx;
  const Y=v=>p.y0+v/p.sy;
  const Ypx=v=>v/p.sy;
  const covY=d=>Y(p.base-d);
  const rowY=r=>Y(p.rTop+r/100*(p.rBot-p.rTop));
  const L=X(p.c.left),R=X(p.c.right),W=R-L;

  const g=make('g',panelsG,{});
  
  

  const box=make('rect',g,{x:L,y:Y(p.top),width:W,height:Y(p.bottom)-Y(p.top),fill:'#fff',stroke:'#e3e3e3','stroke-width':2.5});
  
  

  const clip=make('clipPath',g,{id:'clip'+idx});
  make('rect',clip,{x:L,y:Y(p.top),width:W,height:Y(p.bottom)-Y(p.top)});
  const inner=make('g',g,{'clip-path':'url(#clip'+idx+')'});

  const covBand=make('rect',inner,{x:L,y:Y(p.band),width:W,height:Y(p.sep)-Y(p.band),fill:'#efefef'});
  
  
  const readBand=make('rect',inner,{x:L,y:Y(p.sep),width:W,height:Y(p.ruler2)-Y(p.sep)-3,fill:'#efefef'});
  
  
  const topSep=make('rect',inner,{x:L,y:Y(p.band)-2,width:W,height:3,fill:'#d8d8d8'});
  
  

  /* rulers */
  [[p.ruler,p.label],[p.ruler2,p.label2]].forEach(function(rl){
    const bar=make('rect',inner,{x:L,y:Y(rl[0])-1.5,width:W,height:3,fill:'#666'});
    
    
    const shade=make('rect',inner,{x:L,y:Y(rl[0])-5,width:W,height:3.5,fill:'#e6e6e6'});
    
    
    p.ticks.forEach(function(t,i){
      const tk=make('line',inner,{x1:X(t),x2:X(t),y1:Y(rl[0]),y2:Y(rl[0])+5,stroke:'#777','stroke-width':1.2});
      
      
      const lb=make('text',inner,{class:'tick',x:X(t)+3,y:Y(rl[1])+5});
      
      
      lb.textContent=p.tickLabels[i];
      const w=p.tickLabels[i].length<4?p.tickW*p.tickLabels[i].length/4:p.tickW;
      lb.setAttribute('textLength',w);
      lb.setAttribute('lengthAdjust','spacingAndGlyphs');
    });
  });

  /* gene models */
  p.genes.forEach(function(gene){
    const yc=Y(gene.y);
    gene.cds.forEach(function(c){
      const halo=make('rect',inner,{x:X(c[0])-1,y:yc-Ypx(28),width:X(c[1])-X(c[0])+2,height:Ypx(56),fill:'#f6f6f6',stroke:'#e2e2e2','stroke-width':1.2});
      
      
    });
    gene.intr.forEach(function(s){
      const ln=make('rect',inner,{x:X(s[0]),y:yc-(gene.thick?2.5:1.3),width:X(s[1])-X(s[0]),height:gene.thick?5:2.6,fill:gene.thick?'#8f8fff':'#4f4fff'});
      
      
    });
    gene.ex.forEach(function(e){
      const ex=make('rect',inner,{x:X(e[0]),y:yc-Ypx(14),width:X(e[1])-X(e[0]),height:Ypx(28),fill:gene.col});
      
      
    });
  });

  /* coverage */
  const rng=make('text',inner,{class:'rng',x:L+4,y:Y(p.band+28)});
  
  
  rng.textContent='[0-100]';
  (p.extent||[]).forEach(function(s){
    const ln=make('rect',inner,{x:X(s[0]),y:covY(0)-1,width:X(s[1])-X(s[0]),height:3,fill:'#bdbdbd'});
    
    
  });
  p.cov.forEach(function(isl){
    let d='M'+X(isl[0])+' '+covY(0);
    for(let i=0;i<isl.length;i+=2){d+='L'+X(isl[i])+' '+covY(isl[i+1]);}
    d+='L'+X(isl[isl.length-2])+' '+covY(0)+'Z';
    const c=make('path',inner,{d:d,fill:'#666'});
    
    
  });

  /* reads */
  const polyPts=arr=>{let s='';for(let i=0;i<arr.length;i+=2){s+=X(arr[i])+','+rowY(arr[i+1])+' ';}return s;};
  (p.lav||[]).forEach(function(a){
    const r=make('polygon',inner,{points:polyPts(a),fill:'#aaa8e0'});
    
    
  });
  (p.pink||[]).forEach(function(a){
    const r=make('polygon',inner,{points:polyPts(a),fill:'#e8a6a6'});
    
    
  });
  (p.teal||[]).forEach(function(t){
    const r0=t.length>2?t[2]:0,r1=t.length>2?t[3]:100;
    const r=make('rect',inner,{x:X(t[0]),y:rowY(r0),width:X(t[1])-X(t[0]),height:rowY(r1)-rowY(r0),fill:'#97b5c6'});
    
    
  });
  (p.gaps||[]).forEach(function(t){
    const r=make('rect',inner,{x:X(t[0]),y:rowY(t[2]),width:X(t[1])-X(t[0]),height:rowY(t[3])-rowY(t[2]),fill:'#f7f7f7'});
    
    
  });
  (p.streaks||[]).forEach(function(t){
    const r=make('rect',inner,{x:X(t[0]),y:rowY(t[2])-1,width:X(t[1])-X(t[0]),height:2.4,fill:p.streak});
    
    
  });
  (p.dashes||[]).forEach(function(t){
    const r=make('line',inner,{x1:X(t[0]),x2:X(t[1]),y1:Y(p.rTop)-1.5,y2:Y(p.rTop)-1.5,stroke:'#333','stroke-width':2.6,'stroke-dasharray':'3 1'});
    
    
  });

  /* junction separator + spanning lines */
  const sep=make('rect',inner,{x:L,y:Y(p.sep)-1.5,width:W,height:3,fill:'#cfcfcf'});
  
  
  (p.lines||[]).forEach(function(l){
    const r=make('rect',inner,{x:L,y:Y(l[0])-l[2]/2,width:W,height:l[2],fill:l[1]});
    
    
  });

  /* sashimi arcs */
  (p.up||[]).forEach(function(a){
    const r=make('path',inner,{d:arcPath(X,Y(p.arcBase),a[0],a[1],a[2],a[3],1,Ypx),fill:'#a04a4a','fill-opacity':.68,'fill-rule':'evenodd'});
    
    
  });
  (p.down||[]).forEach(function(a){
    const r=make('path',inner,{d:arcPath(X,Y(p.downBase),a[0],a[1],a[2],a[3],-1,Ypx),fill:'#5a5aa8','fill-opacity':.7,'fill-rule':'evenodd'});
    
    
  });
  (p.strong||[]).forEach(function(a){
    const r=make('path',inner,{d:arcPath(X,Y(p.downBase),a[0],a[1],a[2],a[3],-1,Ypx),fill:'#5858ff','fill-rule':'evenodd'});
    
    
  });
}
PANELS.forEach(drawPanel);
</script>
</body>
</html>
